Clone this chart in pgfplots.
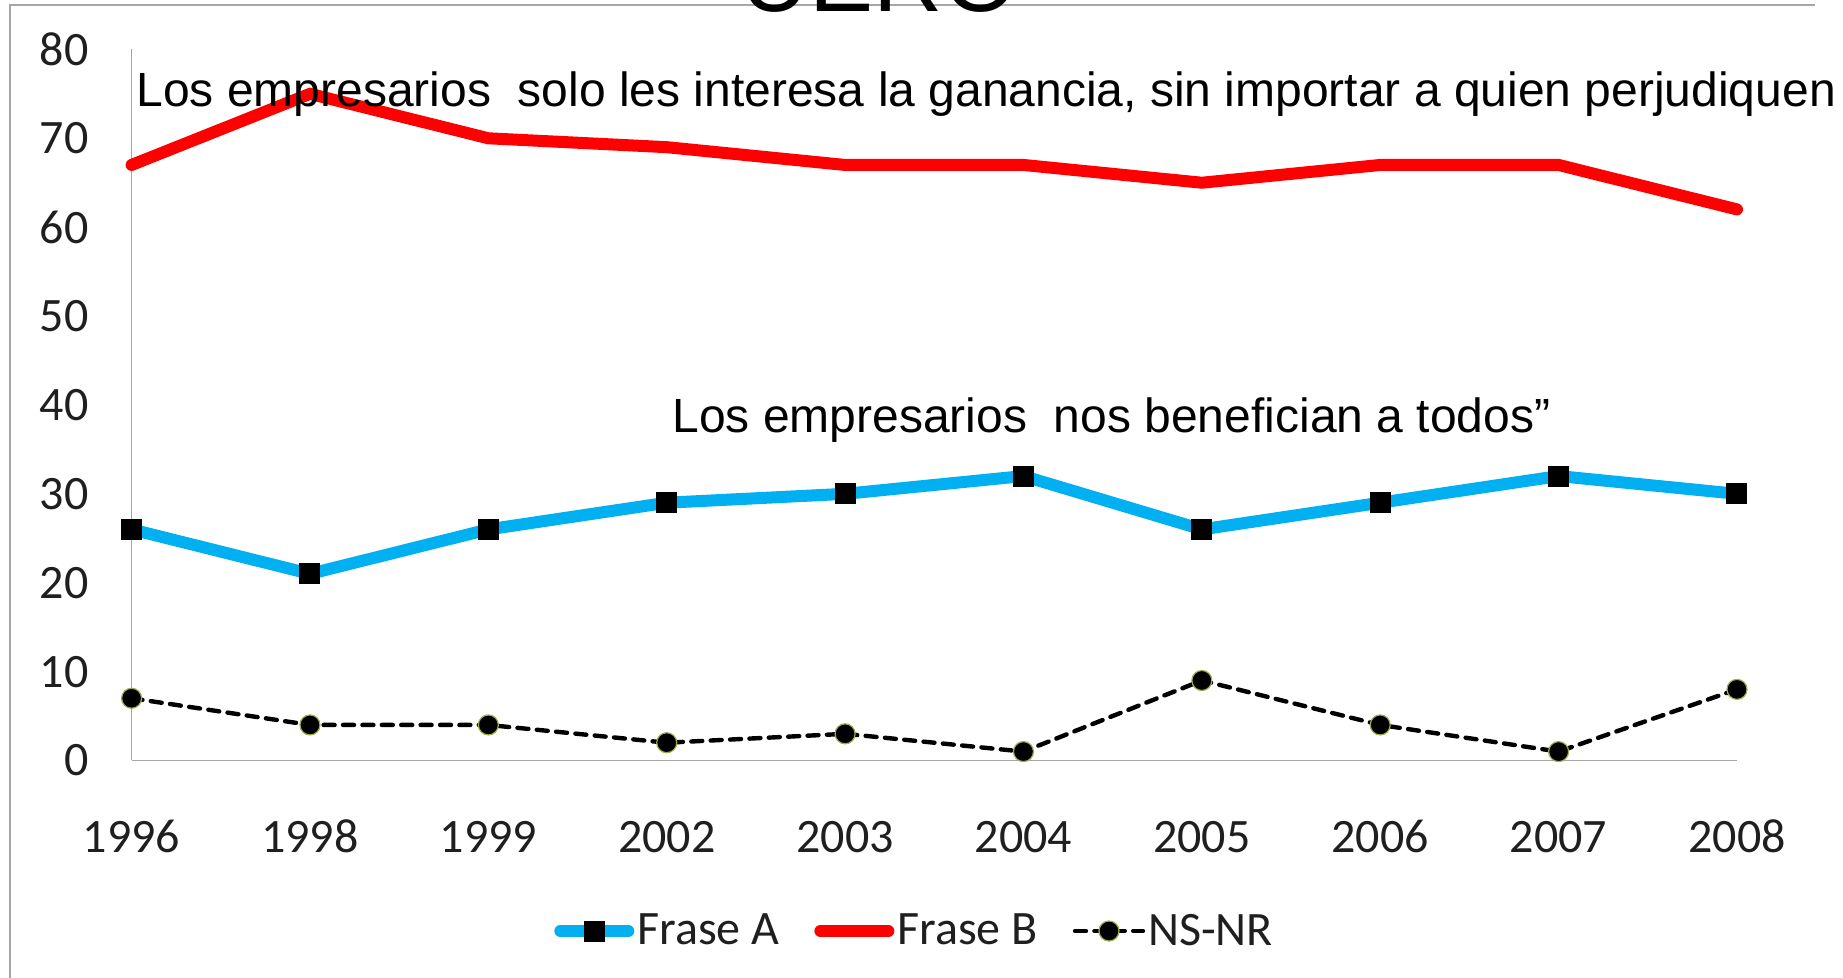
\documentclass[border=0pt]{standalone}
\usepackage{fontspec}
\setmainfont{Carlito}
\newfontfamily\arialf{Liberation Sans}
\usepackage{pgfplots}
\pgfplotsset{compat=1.18}
\definecolor{xlblue}{HTML}{00B0F0}
\definecolor{xlred}{HTML}{FF0000}
\definecolor{mkedge}{HTML}{9AB04A}
\begin{document}
\begin{tikzpicture}
\path[use as bounding box] (0,0) rectangle (921.5pt,489pt);
\fill[white] (0,0) rectangle (921.5pt,489pt);
\draw[gray!70,line width=0.6pt] (5pt,0) -- (5pt,486.5pt) -- (907.5pt,486.5pt);
\node[font=\arialf\fontsize{48}{50}\selectfont,anchor=base,inner sep=0pt] at (439.6pt,483pt) {UERO};
\begin{axis}[
  at={(65.8pt,108.75pt)}, anchor=south west,
  scale only axis, width=802.7pt, height=355.55pt,
  xmin=0, xmax=9, ymin=0, ymax=80,
  axis lines=left, axis line style={gray!70,line width=0.8pt,-},
  xtick={0,...,9},
  xticklabels={1996,1998,1999,2002,2003,2004,2005,2006,2007,2008},
  ytick={0,10,...,80},
  major tick length=0pt,
  /pgf/number format/assume math mode=true,
  tick label style={font=\fontsize{24}{26}\selectfont, text=black!88},
  xticklabel style={anchor=base, yshift=-46.25pt},
  yticklabel style={xshift=-18pt},
  clip=false,
  legend columns=3,
  legend style={at={(axis description cs:0.488,-0.2398)}, anchor=center, draw=none,
    font=\fontsize{24}{26}\selectfont, text=black!88,
    nodes={inner xsep=1.5pt},
    /tikz/every even column/.append style={column sep=16pt}},
  legend image code/.code={\draw[mark repeat=2,mark phase=2] plot coordinates {(0pt,0pt) (17pt,0pt) (34pt,0pt)};},
]
\addplot[xlblue, line width=6pt, line cap=round, mark=square*, mark size=5pt,
  mark options={black, fill=black, line width=0pt, solid}] coordinates {
  (0,26) (1,21) (2,26) (3,29) (4,30) (5,32) (6,26) (7,29) (8,32) (9,30)};
\addlegendentry{Frase A}
\addplot[xlred, line width=6pt, line cap=round] coordinates {
  (0,67) (1,75) (2,70) (3,69) (4,67) (5,67) (6,65) (7,67) (8,67) (9,62)};
\addlegendentry{Frase B}
\addplot[black, line width=2.2pt, line cap=round, dash pattern=on 5.5pt off 4.2pt, mark=*, mark size=5pt,
  mark options={solid, fill=black, draw=mkedge, line width=0.6pt}] coordinates {
  (0,7) (1,4) (2,4) (3,2) (4,3) (5,1) (6,9) (7,4) (8,1) (9,8)};
\addlegendentry{NS-NR}
\node[font=\arialf\fontsize{24}{26}\selectfont, anchor=base west, inner sep=0pt] at (axis cs:0.025,73.6)
  {Los empresarios\ \ solo les interesa la ganancia, sin importar a quien perjudiquen};
\node[font=\arialf\fontsize{24}{26}\selectfont, anchor=base west, inner sep=0pt] at (axis cs:3.03,36.9)
  {Los empresarios\ \ nos benefician a todos”};
\end{axis}
\end{tikzpicture}
\end{document}
